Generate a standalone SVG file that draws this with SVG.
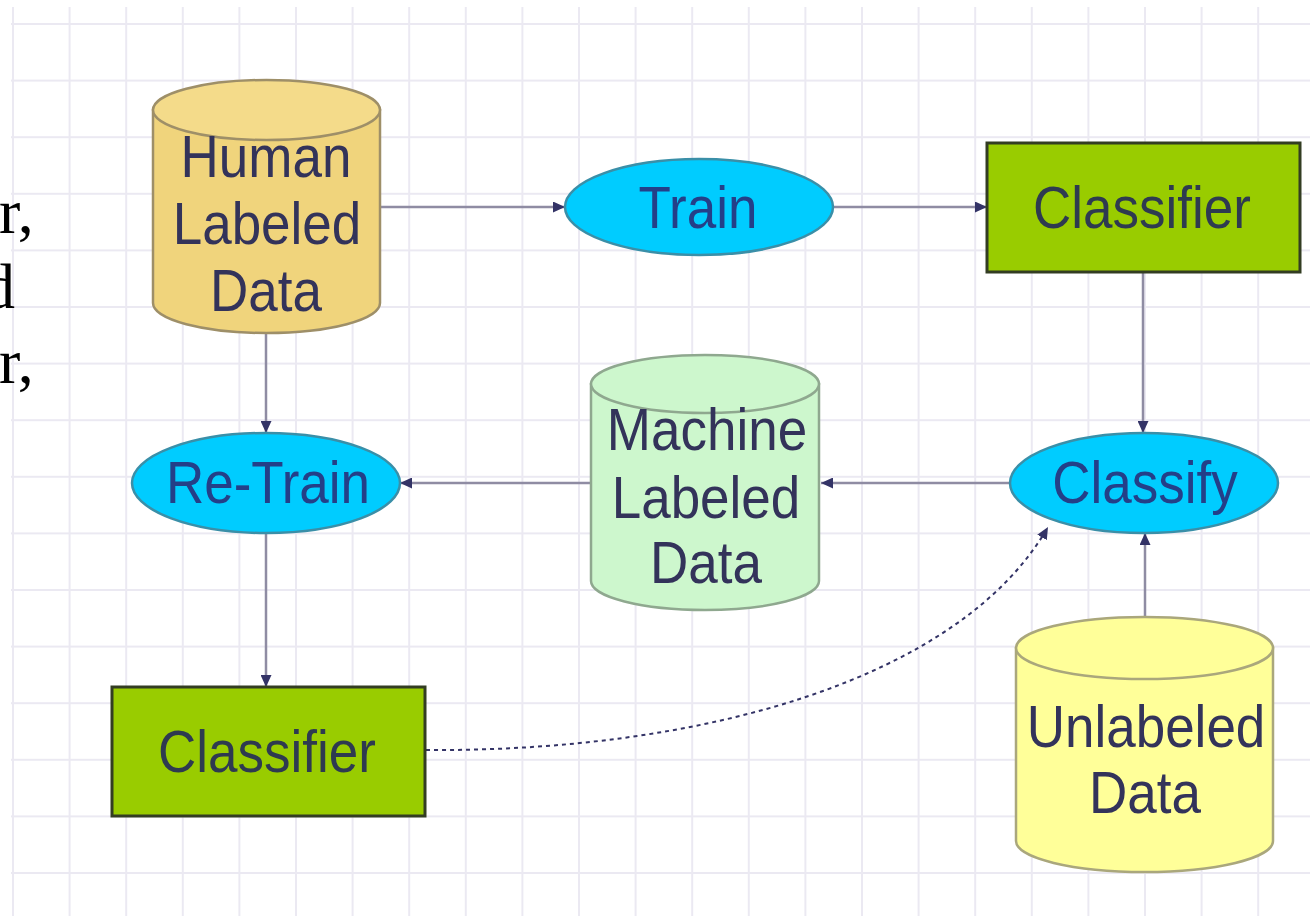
<svg xmlns="http://www.w3.org/2000/svg" width="1310" height="916" viewBox="0 0 1310 916">
  <style>
    .lbl { font-family: "Liberation Sans", Arial, sans-serif; font-size: 53px; text-anchor: middle; }
    .dk { fill: #33335a; }
    .bl { fill: #243f88; }
    .gr { fill: #2e3a50; }
    .side { font-family: "Liberation Serif", "Times New Roman", serif; font-size: 64px; fill: #000; }
    .conn { fill: none; stroke: #8f8ca3; stroke-width: 2.5; }
    .dash { fill: none; stroke: #333366; stroke-width: 2; stroke-dasharray: 4 4; }
    .cyl-h { fill: #f0d47c; stroke: #9e8f68; stroke-width: 2.5; }
    .cyl-h-top { fill: #f4db8a; stroke: #9e8f68; stroke-width: 2.5; }
    .cyl-m { fill: #cdf7cd; stroke: #8fa88f; stroke-width: 2.5; }
    .cyl-u { fill: #ffff99; stroke: #aaa77c; stroke-width: 2.5; }
    .oval { fill: #00ccff; stroke: #3a8fa8; stroke-width: 2.5; }
    .box { fill: #99cc00; stroke: #333d22; stroke-width: 3; }
  </style>
  <defs>
    <pattern id="grid" patternUnits="userSpaceOnUse" x="12" y="23" width="56.6" height="56.6">
      <path d="M1,0 V56.6 M0,1 H56.6" stroke="#ebe9f2" stroke-width="2" fill="none"/>
    </pattern>
    <marker id="arr" markerUnits="userSpaceOnUse" markerWidth="13" markerHeight="11" refX="12" refY="5.5" orient="auto">
      <path d="M0,0 L12,5.5 L0,11 Z" fill="#333366"/>
    </marker>
  </defs>

  <rect x="0" y="0" width="1310" height="916" fill="#ffffff"/>
  <rect x="11" y="7" width="1299" height="909" fill="url(#grid)"/>

  <g id="side-text">
    <text class="side" x="-1" y="233">r,</text>
    <text class="side" x="15" y="308" text-anchor="end">d</text>
    <text class="side" x="-1" y="383">r,</text>
  </g>

  <g id="connectors">
    <path class="conn" d="M380,207 L565,207" marker-end="url(#arr)"/>
    <path class="conn" d="M833,207 L987,207" marker-end="url(#arr)"/>
    <path class="conn" d="M1143,272 L1143,433" marker-end="url(#arr)"/>
    <path class="conn" d="M1145,617 L1145,533" marker-end="url(#arr)"/>
    <path class="conn" d="M1010,483 L821,483" marker-end="url(#arr)"/>
    <path class="conn" d="M591,483 L400,483" marker-end="url(#arr)"/>
    <path class="conn" d="M266,333 L266,433" marker-end="url(#arr)"/>
    <path class="conn" d="M266,533 L266,687" marker-end="url(#arr)"/>
    <path class="dash" d="M426,750 C700,752 960,680 1048,527" marker-end="url(#arr)"/>
  </g>

  <g id="human-labeled-data">
    <path class="cyl-h" d="M153,110 L153,303 A113.5,30 0 0 0 380,303 L380,110 Z"/>
    <ellipse class="cyl-h-top" cx="266.5" cy="110" rx="113.5" ry="30"/>
    <text class="lbl dk" transform="translate(266 177) scale(1 1.1)">Human</text>
    <text class="lbl dk" transform="translate(267 244) scale(1 1.1)">Labeled</text>
    <text class="lbl dk" transform="translate(266 311) scale(1 1.1)">Data</text>
  </g>

  <g id="train">
    <ellipse class="oval" cx="699" cy="207" rx="134" ry="48"/>
    <text class="lbl bl" transform="translate(698 228) scale(1 1.1)">Train</text>
  </g>

  <g id="classifier-top">
    <rect class="box" x="987" y="143" width="313" height="129"/>
    <text class="lbl gr" transform="translate(1142 228) scale(1 1.1)">Classifier</text>
  </g>

  <g id="classify">
    <ellipse class="oval" cx="1144" cy="483" rx="134" ry="50"/>
    <text class="lbl bl" transform="translate(1145 503) scale(1 1.1)">Classify</text>
  </g>

  <g id="machine-labeled-data">
    <path class="cyl-m" d="M591,384 L591,581 A114,29 0 0 0 819,581 L819,384 Z"/>
    <ellipse class="cyl-m" cx="705" cy="384" rx="114" ry="29"/>
    <text class="lbl dk" transform="translate(707 450) scale(1 1.1)">Machine</text>
    <text class="lbl dk" transform="translate(706 518) scale(1 1.1)">Labeled</text>
    <text class="lbl dk" transform="translate(706 583) scale(1 1.1)">Data</text>
  </g>

  <g id="re-train">
    <ellipse class="oval" cx="266" cy="483" rx="134" ry="50"/>
    <text class="lbl bl" transform="translate(268 503) scale(1 1.1)">Re-Train</text>
  </g>

  <g id="classifier-bottom">
    <rect class="box" x="112" y="687" width="313" height="129"/>
    <text class="lbl gr" transform="translate(267 772) scale(1 1.1)">Classifier</text>
  </g>

  <g id="unlabeled-data">
    <path class="cyl-u" d="M1016,648 L1016,841 A128.5,31 0 0 0 1273,841 L1273,648 Z"/>
    <ellipse class="cyl-u" cx="1144.5" cy="648" rx="128.5" ry="31"/>
    <text class="lbl dk" transform="translate(1146 747) scale(1 1.1)">Unlabeled</text>
    <text class="lbl dk" transform="translate(1145 813) scale(1 1.1)">Data</text>
  </g>
</svg>
